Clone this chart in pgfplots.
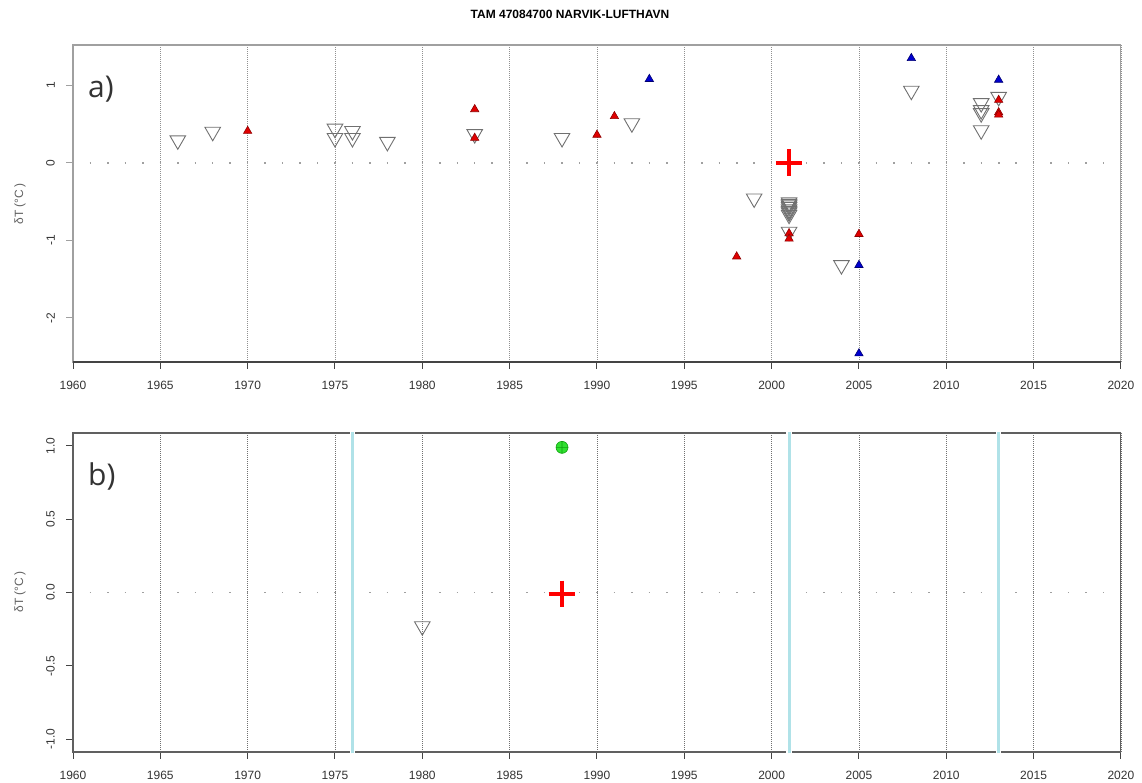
\documentclass[border=0pt]{standalone}
\usepackage{fontspec}
\setmainfont{Liberation Sans}
\newfontfamily\labfont{Open Sans}
\usepackage{pgfplots}
\pgfplotsset{compat=1.18}
\definecolor{boxgrey}{HTML}{A0A0A0}
\definecolor{boxdark}{HTML}{606060}
\definecolor{tickdark}{HTML}{444444}
\definecolor{labdark}{HTML}{333333}
\definecolor{griddark}{HTML}{909090}
\definecolor{gridbot}{HTML}{707070}
\definecolor{trigrey}{HTML}{707070}
\definecolor{zerogrey}{HTML}{A0A0A0}
\definecolor{redfill}{HTML}{E00000}
\definecolor{reddark}{HTML}{900000}
\definecolor{bluefill}{HTML}{0000D0}
\definecolor{bluedark}{HTML}{000070}
\definecolor{cyanl}{HTML}{B0E2E8}
\definecolor{greenfill}{HTML}{30E030}
\definecolor{greendark}{HTML}{10A010}
\definecolor{ylabgrey}{HTML}{606060}
\pgfplotsset{
  common/.style={
    scale only axis, width=1048pt, xmin=1960, xmax=2020,
    xtick={1960,1965,...,2020},
    xticklabels={1960,1965,1970,1975,1980,1985,1990,1995,2000,2005,2010,2015,2020},
    tick pos=left, tick align=outside, major tick length=7pt,
    xtick style={draw=tickdark,line width=1pt},
    xticklabel style={font=\fontsize{12}{14}\selectfont, text=labdark, yshift=-9pt},
    yticklabel style={font=\fontsize{12}{14}\selectfont, text=labdark, rotate=90, anchor=south, inner sep=0pt, yshift=11pt},
    xmajorgrids, clip=false,
  }
}
\begin{document}
\begin{tikzpicture}[x=1pt,y=1pt]
\path[use as bounding box] (0,0) rectangle (1142,783);
\node[font=\bfseries\fontsize{12}{14}\selectfont] at (570,768.3) {TAM 47084700 NARVIK-LUFTHAVN};
\node[rotate=90, text=ylabgrey, font=\fontsize{12}{14}\selectfont] at (20,579) {δT (°C\,)};
\node[rotate=90, text=ylabgrey, font=\fontsize{12}{14}\selectfont] at (20,191) {δT (°C\,)};
\node[anchor=base west, inner sep=0pt, text=labdark, font=\labfont\fontsize{30}{34}\selectfont] at (88,685.5) {a)};
\node[anchor=base west, inner sep=0pt, text=labdark, font=\labfont\fontsize{30}{34}\selectfont] at (88,297.5) {b)};

\begin{axis}[common,
  at={(73pt,421pt)}, anchor=south west, height=317pt,
  ymin=-2.57, ymax=1.52,
  axis line style={draw=boxgrey,line width=1.1pt},
  ytick={-2,-1,0,1}, yticklabels={-2,-1,0,1},
  ytick style={draw=boxgrey,line width=1pt},
  major grid style={draw=griddark, line width=0.8pt, dash pattern=on 0.8pt off 1.2pt},
]
\draw[tickdark, line width=1.1pt] (rel axis cs:0,0) -- (rel axis cs:1,0);
\addplot[draw=zerogrey, line width=1.5pt, dash pattern=on 1.5pt off 15.967pt] coordinates {(1960.957,0) (2019.1,0)};
\addplot[only marks, mark=triangle, mark size=9pt, mark options={rotate=180, draw=trigrey, line width=0.9pt}] coordinates {
(1966,0.29) (1968,0.40) (1975,0.44) (1975,0.32) (1976,0.41) (1976,0.32) (1978,0.27)
(1983,0.37) (1988,0.32) (1992,0.51) (1999,-0.46)
(2001,-0.51) (2001,-0.53) (2001,-0.55) (2001,-0.57) (2001,-0.60) (2001,-0.62) (2001,-0.64) (2001,-0.67)
(2001,-0.89) (2004,-1.32) (2008,0.93)
(2012,0.77) (2012,0.68) (2012,0.64) (2012,0.42) (2013,0.85)
};
\addplot[only marks, mark=triangle*, mark size=4.8pt, mark options={fill=redfill, draw=reddark, line width=0.6pt}] coordinates {
(1970,0.41) (1983,0.69) (1983,0.32) (1990,0.36) (1991,0.60) (1998,-1.21)
(2001,-0.91) (2001,-0.98) (2005,-0.92) (2013,0.81) (2013,0.65) (2013,0.62)
};
\addplot[only marks, mark=triangle*, mark size=4.8pt, mark options={fill=bluefill, draw=bluedark, line width=0.6pt}] coordinates {
(1993,1.08) (2005,-1.32) (2005,-2.46) (2008,1.35) (2013,1.07)
};
\addplot[only marks, mark=+, mark size=13.3pt, mark options={draw=red, line width=4.5pt}] coordinates {(2001,0)};
\end{axis}

\begin{axis}[common,
  at={(73pt,31pt)}, anchor=south west, height=319pt,
  ymin=-1.088, ymax=1.088,
  axis line style={draw=boxdark,line width=1.1pt},
  ytick={-1,-0.5,0,0.5,1}, yticklabels={-1.0,-0.5,0.0,0.5,1.0},
  ytick style={draw=tickdark,line width=1pt},
  major grid style={draw=gridbot, line width=0.8pt, dash pattern=on 0.8pt off 1.2pt},
]
\addplot[draw=zerogrey, line width=1.5pt, dash pattern=on 1.5pt off 15.967pt] coordinates {(1960.957,0) (2019.1,0)};
\addplot[draw=white, line width=5.5pt] coordinates {(1976,-1.098) (1976,1.098)};
\addplot[draw=white, line width=5.5pt] coordinates {(2001,-1.098) (2001,1.098)};
\addplot[draw=white, line width=5.5pt] coordinates {(2013,-1.098) (2013,1.098)};
\addplot[draw=cyanl, line width=3pt] coordinates {(1976,-1.098) (1976,1.098)};
\addplot[draw=cyanl, line width=3pt] coordinates {(2001,-1.098) (2001,1.098)};
\addplot[draw=cyanl, line width=3pt] coordinates {(2013,-1.098) (2013,1.098)};
\addplot[only marks, mark=triangle, mark size=9pt, mark options={rotate=180, draw=trigrey, line width=0.9pt}] coordinates {(1980,-0.23)};
\addplot[only marks, mark=oplus*, mark size=6pt, mark options={fill=greenfill, draw=greendark, line width=0.6pt}] coordinates {(1988,0.99)};
\addplot[only marks, mark=+, mark size=13.3pt, mark options={draw=red, line width=4.5pt}] coordinates {(1988,-0.01)};
\end{axis}
\end{tikzpicture}
\end{document}
